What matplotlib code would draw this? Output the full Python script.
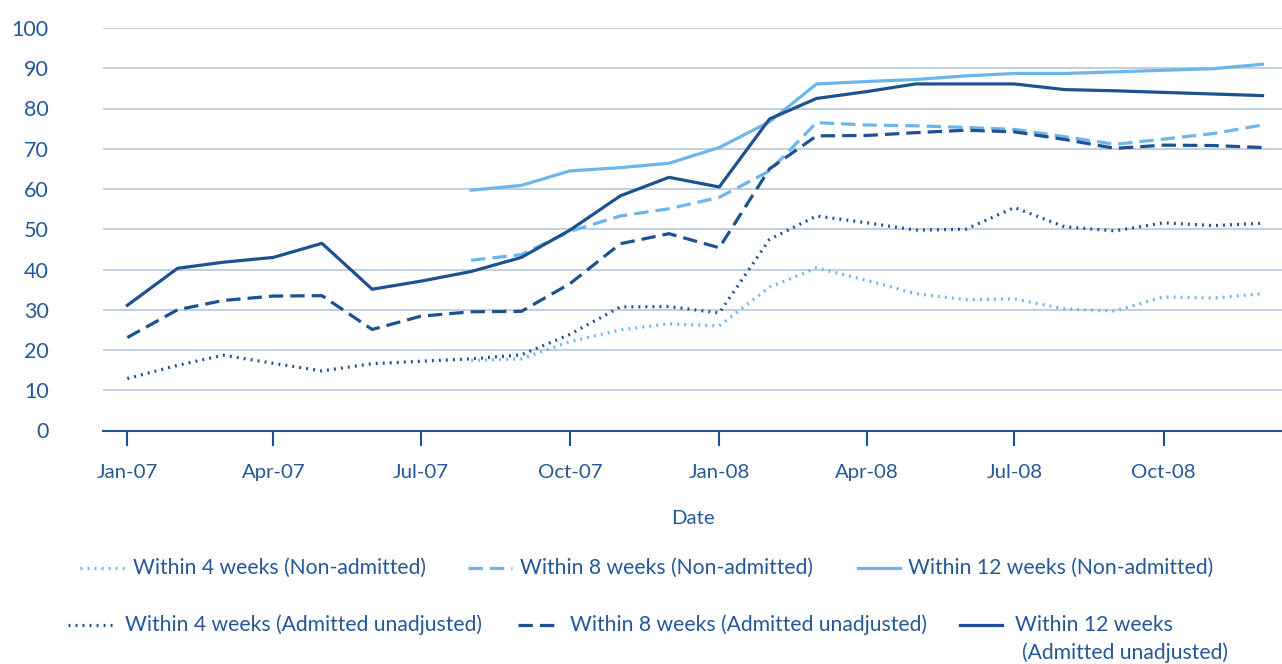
import matplotlib
matplotlib.use("Agg")
import matplotlib.pyplot as plt
from matplotlib.lines import Line2D
import pandas as pd

months = ["Jan-07", "Feb-07", "Mar-07", "Apr-07", "May-07", "Jun-07", "Jul-07", "Aug-07",
          "Sep-07", "Oct-07", "Nov-07", "Dec-07", "Jan-08", "Feb-08", "Mar-08", "Apr-08",
          "May-08", "Jun-08", "Jul-08", "Aug-08", "Sep-08", "Oct-08", "Nov-08", "Dec-08"]
tick_labels = ["Jan-07", "Apr-07", "Jul-07", "Oct-07", "Jan-08", "Apr-08", "Jul-08", "Oct-08"]
N = None
na4 = [N, N, N, N, N, N, N, 17.4, 17.8, 22.1, 25.0, 26.5, 26.0, 35.6, 40.4, 37.3,
       34.0, 32.5, 32.7, 30.2, 29.7, 33.2, 32.9, 34.0]
na8 = [N, N, N, N, N, N, N, 42.3, 43.7, 49.5, 53.3, 55.1, 57.9, 64.5, 76.5, 75.9,
       75.7, 75.3, 74.8, 73.0, 71.1, 72.4, 73.8, 75.9]
na12 = [N, N, N, N, N, N, N, 59.7, 60.9, 64.5, 65.3, 66.4, 70.3, 76.7, 86.1, 86.7,
        87.2, 88.1, 88.7, 88.7, 89.1, 89.5, 89.9, 91.0]
ad4 = [12.9, 16.2, 18.7, 16.7, 14.8, 16.6, 17.2, 17.8, 18.8, 23.9, 30.7, 30.8, 29.2, 47.5,
       53.3, 51.6, 49.8, 50.0, 55.4, 50.6, 49.6, 51.6, 50.9, 51.5]
ad8 = [23.1, 30.0, 32.3, 33.4, 33.5, 25.1, 28.4, 29.5, 29.6, 36.5, 46.4, 48.9, 45.4, 65.0,
       73.2, 73.3, 74.0, 74.6, 74.2, 72.3, 70.1, 70.9, 70.8, 70.3]
ad12 = [31.1, 40.3, 41.8, 43.0, 46.5, 35.1, 37.1, 39.5, 43.0, 49.8, 58.3, 62.9, 60.5, 77.4,
        82.5, 84.2, 86.1, 86.1, 86.1, 84.7, 84.4, 84.0, 83.6, 83.2]

labels = ["Within 4 weeks (Non-admitted)", "Within 8 weeks (Non-admitted)",
          "Within 12 weeks (Non-admitted)", "Within 4 weeks (Admitted unadjusted)",
          "Within 8 weeks (Admitted unadjusted)", "Within 12 weeks\n(Admitted unadjusted)"]

DARK = "#1d5190"
LIGHT = "#6db6ea"
TXT = "#245896"
GRID = "#bccbdd"

plt.rcParams['font.family'] = ['Lato', 'DejaVu Sans']

fig = plt.figure(figsize=(12.82, 6.64), dpi=100)
ax = fig.add_axes([103/1282, 1 - 430.5/664, (1282-103)/1282, (430.5-28)/664])

dates = pd.to_datetime(months, format="%b-%y")
dot = (0, (0.6, 1.6))
dash = (0, (4.5, 2.2))
series = [
    (na4, LIGHT, dot), (na8, LIGHT, dash), (na12, LIGHT, '-'),
    (ad4, DARK, dot), (ad8, DARK, dash), (ad12, DARK, '-'),
]
lw = 2.3
for vals, col, ls in series:
    xs = [d for d, v in zip(dates, vals) if v is not None]
    ys = [v for v in vals if v is not None]
    ax.plot(xs, ys, color=col, linestyle=ls, linewidth=lw, zorder=3)

ax.set_xlim(pd.Timestamp("2006-12-17"), pd.Timestamp("2008-12-13"))
ax.set_ylim(0, 100)
ax.set_yticks(range(0, 101, 10))
ax.yaxis.grid(True, color=GRID, linewidth=1.3)
ax.set_axisbelow(True)
for s in ["top", "right", "left"]:
    ax.spines[s].set_visible(False)
ax.spines["bottom"].set_color(DARK)
ax.spines["bottom"].set_linewidth(1.5)
ax.set_xticks(pd.to_datetime(tick_labels, format="%b-%y"))
ax.set_xticklabels(tick_labels)
ax.tick_params(axis='x', length=11, width=1.5, color=DARK, labelsize=14.7, labelcolor=TXT, pad=13)
ax.tick_params(axis='y', length=0, labelsize=15.5, labelcolor=TXT, pad=39)
for lab in ax.get_yticklabels():
    lab.set_horizontalalignment('right')
ax.set_xlabel("Date", fontsize=14.7, color=TXT, labelpad=21)

# legend (manual, figure coordinates in pixels)
W, H = 1282, 664
FS = 15.2
entries = [
    (80, 125, 133, 568), (468, 512, 520, 568), (858, 900, 908, 568),
    (68, 115, 125, 625), (518, 560, 570, 625), (960, 1002, 1015, 625),
]
for (hx0, hx1, tx, ty), (vals, col, ls), lab in zip(entries, series, labels):
    fig.add_artist(Line2D([hx0/W, hx1/W], [1 - ty/H, 1 - ty/H], transform=fig.transFigure,
                          color=col, linestyle=ls, linewidth=lw))
    if "\n" in lab:
        l1, l2 = lab.split("\n")
        fig.text(tx/W, 1 - ty/H, l1, fontsize=FS, color=TXT, va='center', ha='left')
        fig.text((tx + 7)/W, 1 - (ty + 28)/H, l2, fontsize=FS, color=TXT, va='center', ha='left')
    else:
        fig.text(tx/W, 1 - ty/H, lab, fontsize=FS, color=TXT, va='center', ha='left')

fig.savefig("out.png", dpi=100)
